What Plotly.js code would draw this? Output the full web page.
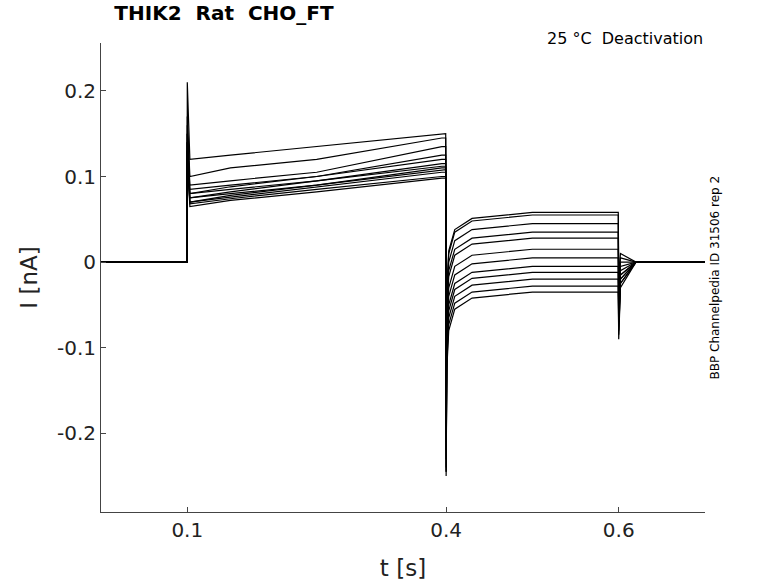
<!DOCTYPE html>
<html>
<head>
<meta charset="utf-8">
<script src="https://cdn.plot.ly/plotly-3.0.1.min.js"></script>
<style>body{margin:0}</style>
</head>
<body>
<div id="plot" style="width:778px;height:583px"></div>
<script>
// key sample times (s) shared by every sweep
const times = [0, 0.0998, 0.1, 0.103, 0.15, 0.25, 0.395, 0.3995, 0.4, 0.4008, 0.403, 0.41, 0.43, 0.5, 0.5995, 0.6, 0.602, 0.62, 0.7]

// per-sweep values (nA)
const onPeak   = [0.21, 0.17, 0.16, 0.15, 0.15, 0.14, 0.14, 0.14, 0.13, 0.13, 0.13, 0.12]
const onStart  = [0.12, 0.10, 0.09, 0.085, 0.08, 0.08, 0.075, 0.075, 0.07, 0.07, 0.068, 0.065]
const earlyLvl = [0.125, 0.11, 0.095, 0.09, 0.088, 0.085, 0.082, 0.08, 0.078, 0.076, 0.074, 0.072]
const midLevel = [0.135, 0.12, 0.105, 0.10, 0.10, 0.095, 0.095, 0.09, 0.09, 0.088, 0.085, 0.082]
const endLevel = [0.15, 0.145, 0.135, 0.125, 0.12, 0.115, 0.112, 0.11, 0.108, 0.105, 0.10, 0.098]
const trough   = [-0.12, -0.15, -0.17, -0.18, -0.20, -0.21, -0.22, -0.23, -0.24, -0.245, -0.245, -0.25]
const tailLvl  = [0.058, 0.055, 0.045, 0.035, 0.028, 0.015, 0.005, -0.005, -0.012, -0.02, -0.028, -0.035]
const offDip   = [-0.02, -0.03, -0.04, -0.05, -0.05, -0.06, -0.06, -0.07, -0.07, -0.08, -0.085, -0.09]
const offStart = [0.01, 0.005, 0.0, -0.005, -0.01, -0.015, -0.015, -0.02, -0.02, -0.025, -0.025, -0.03]

const data = tailLvl.map(function (t, i) {
    const y = [0, 0, onPeak[i], onStart[i], earlyLvl[i], midLevel[i], endLevel[i], endLevel[i],
               trough[i], t - 0.09, t - 0.045, t - 0.02, t - 0.007, t, t, offDip[i], offStart[i], 0, 0]
    return {x: times, y: y, type: 'scatter', mode: 'lines',
            line: {color: 'black', width: 1.2}, hoverinfo: 'none'}
})

const layout = {
    width: 778, height: 583,
    margin: {l: 101, r: 73, t: 43, b: 71},
    paper_bgcolor: 'white', plot_bgcolor: 'white',
    showlegend: false,
    font: {family: 'DejaVu Sans', color: '#222'},
    title: {text: '<b>THIK2  Rat  CHO_FT</b>', x: 0.147, xanchor: 'left', y: 0.99, yanchor: 'top',
            font: {size: 20, color: 'black'}},
    xaxis: {range: [0, 0.7], tickvals: [0.1, 0.4, 0.6], ticktext: ['0.1', '0.4', '0.6'],
            showgrid: false, zeroline: false, showline: true, linecolor: '#444',
            ticks: 'inside', ticklen: 5, tickfont: {size: 20},
            title: {text: 't [s]', font: {size: 23}, standoff: 18}},
    yaxis: {range: [-0.292, 0.256], tickvals: [-0.2, -0.1, 0, 0.1, 0.2],
            ticktext: ['-0.2', '-0.1', '0', '0.1', '0.2'],
            showgrid: false, zeroline: false, showline: true, linecolor: '#444',
            ticks: 'inside', ticklen: 5, tickfont: {size: 20},
            title: {text: 'I [nA]', font: {size: 23}, standoff: 12}},
    annotations: [
        {text: '25 °C  Deactivation', xref: 'paper', yref: 'paper', x: 1, y: 0.985,
         xanchor: 'right', yanchor: 'bottom', showarrow: false, font: {size: 16, color: 'black'}},
        {text: 'BBP Channelpedia ID 31506 rep 2', xref: 'paper', yref: 'paper', x: 1.0, y: 0.5,
         xanchor: 'left', yanchor: 'middle', textangle: -90, showarrow: false,
         font: {size: 12, color: 'black'}}
    ]
}

Plotly.newPlot('plot', data, layout, {displayModeBar: false})
</script>
</body>
</html>
